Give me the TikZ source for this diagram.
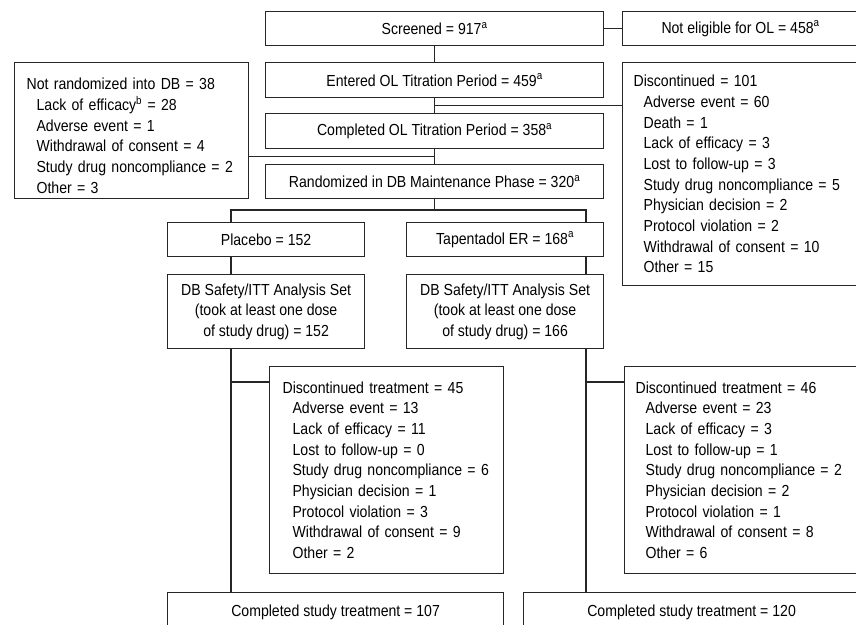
\documentclass[tikz,border=0pt]{standalone}
\usepackage{fontspec}
\setmainfont{Liberation Sans}[FakeStretch=0.88]
\usepackage{tikz}
\usetikzlibrary{calc}
\newcommand{\reason}[1]{\hspace*{10pt}#1}
\tikzset{
	box/.style={draw=black!85, line width=1.2pt, inner sep=0pt, anchor=north west, align=center},
	listbox/.style={box, align=left, inner xsep=12pt}
}

\begin{document}
\begin{tikzpicture}[x=1pt, y=1pt, font=\fontsize{16}{20.7}\selectfont, line width=1.2pt, draw=black!85]
		%%%%% START %%%%%
		\useasboundingbox (0,0) rectangle (856,-624);
		\clip (0,0) rectangle (856,-624);
		
		% open label phase
		\node[box, minimum width=338, minimum height=34] (screened) at (265,-11) {Screened = 917\textsuperscript{a}};
		\node[box, minimum width=236, minimum height=34] (notelig) at (622,-11) {Not eligible for OL = 458\textsuperscript{a}};
		\node[box, minimum width=338, minimum height=35] (entered) at (265,-62) {Entered OL Titration Period = 459\textsuperscript{a}};
		\node[box, minimum width=338, minimum height=35] (completedOL) at (265,-113) {Completed OL Titration Period = 358\textsuperscript{a}};
		\node[box, minimum width=338, minimum height=34] (randomized) at (265,-164) {Randomized in DB Maintenance Phase = 320\textsuperscript{a}};
		
		\node[listbox, text width=210, minimum height=136, inner xsep=12pt] (notrand) at (14,-62) {\rule{0pt}{22pt}Not randomized into DB = 38\\
			\reason{Lack of efficacy\textsuperscript{b} = 28}\\
			\reason{Adverse event = 1}\\
			\reason{Withdrawal of consent = 4}\\
			\reason{Study drug noncompliance = 2}\\
			\reason{Other = 3}};
		\node[listbox, text width=213, minimum height=223, inner xsep=11pt] (disc) at (622,-62) {Discontinued = 101\\
			\reason{Adverse event = 60}\\
			\reason{Death = 1}\\
			\reason{Lack of efficacy = 3}\\
			\reason{Lost to follow-up = 3}\\
			\reason{Study drug noncompliance = 5}\\
			\reason{Physician decision = 2}\\
			\reason{Protocol violation = 2}\\
			\reason{Withdrawal of consent = 10}\\
			\reason{Other = 15}};
		
		% double blind arms
		\node[box, minimum width=197, minimum height=34] (placebo) at (167,-222) {Placebo = 152};
		\node[box, minimum width=197, minimum height=34] (tapentadol) at (406,-222) {Tapentadol ER = 168\textsuperscript{a}};
		\node[box, minimum width=197, minimum height=74] (safetyP) at (167,-274) {DB Safety/ITT Analysis Set\\(took at least one dose\\of study drug) = 152};
		\node[box, minimum width=197, minimum height=74] (safetyT) at (406,-274) {DB Safety/ITT Analysis Set\\(took at least one dose\\of study drug) = 166};
		
		\node[listbox, text width=208, minimum height=207, inner xsep=13pt] (discP) at (269,-366) {Discontinued treatment = 45\\
			\reason{Adverse event = 13}\\
			\reason{Lack of efficacy = 11}\\
			\reason{Lost to follow-up = 0}\\
			\reason{Study drug noncompliance = 6}\\
			\reason{Physician decision = 1}\\
			\reason{Protocol violation = 3}\\
			\reason{Withdrawal of consent = 9}\\
			\reason{Other = 2}};
		\node[listbox, text width=212, minimum height=207, inner xsep=11pt] (discT) at (624,-366) {Discontinued treatment = 46\\
			\reason{Adverse event = 23}\\
			\reason{Lack of efficacy = 3}\\
			\reason{Lost to follow-up = 1}\\
			\reason{Study drug noncompliance = 2}\\
			\reason{Physician decision = 2}\\
			\reason{Protocol violation = 1}\\
			\reason{Withdrawal of consent = 8}\\
			\reason{Other = 6}};
		
		\node[box, minimum width=336, minimum height=40] (doneP) at (167,-592) {Completed study treatment = 107};
		\node[box, minimum width=336, minimum height=40] (doneT) at (523,-592) {Completed study treatment = 120};
		
		% connectors
		\draw (screened) -- (notelig);
		\draw (screened) -- (entered);
		\draw (entered) -- (completedOL);
		\draw (completedOL) -- (randomized);
		\coordinate (j1) at ($(entered.south)!0.5!(completedOL.north)$);
		\draw (j1) -- (j1 -| disc.west);
		\coordinate (j2) at ($(completedOL.south)!0.5!(randomized.north)$);
		\draw (j2) -- (j2 -| notrand.east);
		
		\coordinate (split) at ($(randomized.south)+(0,-12)$);
		\coordinate (armL) at (231,-210);
		\coordinate (armR) at (586,-210);
		\draw (randomized.south) -- (split);
		\draw (armL |- placebo.north) -- (armL) -- (armR) -- (armR |- tapentadol.north);
		\draw (armL |- placebo.south) -- (armL |- safetyP.north);
		\draw (armR |- tapentadol.south) -- (armR |- safetyT.north);
		\draw (armL |- safetyP.south) -- (armL |- doneP.north);
		\draw (armR |- safetyT.south) -- (armR |- doneT.north);
		\coordinate (hP) at ($(discP.north west)+(0,-16)$);
		\coordinate (hT) at ($(discT.north west)+(0,-16)$);
		\draw (armL |- hP) -- (hP);
		\draw (armR |- hT) -- (hT);
		%%%%% END %%%%%
	\end{tikzpicture}
\end{document}
